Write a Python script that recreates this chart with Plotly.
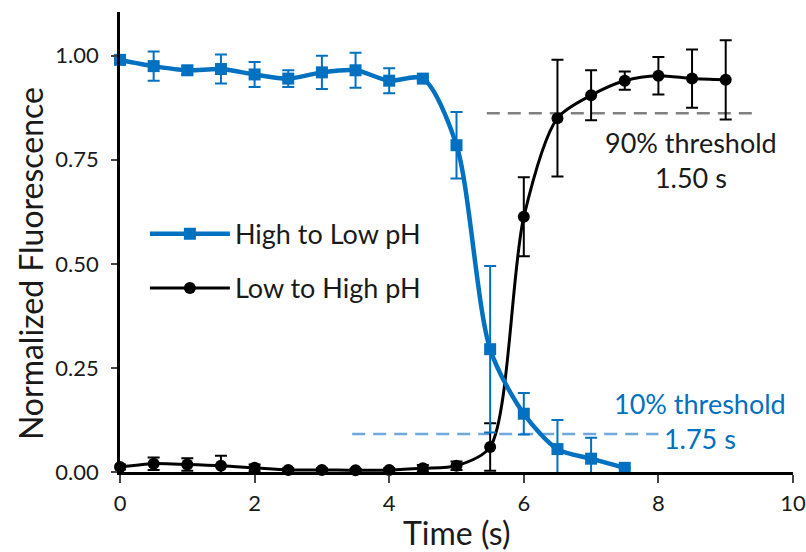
import plotly.graph_objects as go

# ---- data ----
t_high_low = [0, 0.5, 1, 1.5, 2, 2.5, 3, 3.5, 4, 4.5, 5, 5.5, 6, 6.5, 7, 7.5]
f_high_low = [0.99, 0.975, 0.965, 0.968, 0.955, 0.945, 0.96, 0.965, 0.94, 0.945, 0.785, 0.295, 0.14, 0.055, 0.032, 0.01]
e_high_low = [0.0, 0.035, 0.01, 0.035, 0.03, 0.02, 0.04, 0.042, 0.03, 0.005, 0.08, 0.2, 0.05, 0.07, 0.05, 0.0]

t_low_high = [0, 0.5, 1, 1.5, 2, 2.5, 3, 3.5, 4, 4.5, 5, 5.5, 6, 6.5, 7, 7.5, 8, 8.5, 9]
f_low_high = [0.012, 0.02, 0.018, 0.015, 0.01, 0.005, 0.005, 0.004, 0.005, 0.009, 0.015, 0.06, 0.613, 0.85, 0.905, 0.94, 0.952, 0.945, 0.942]
e_low_high = [0.006, 0.015, 0.015, 0.024, 0.008, 0.004, 0.004, 0.004, 0.004, 0.008, 0.01, 0.057, 0.095, 0.14, 0.06, 0.022, 0.045, 0.07, 0.095]

thr90_x = [5.45, 9.5]
thr90_y = 0.862
thr10_x = [3.45, 8.0]
thr10_y = 0.091

x_ticks = [0, 2, 4, 6, 8, 10]
y_ticks = [0.0, 0.25, 0.5, 0.75, 1.0]

BLUE = "#0070c0"
LIGHTBLUE = "#6fa8dc"
GREY = "#808080"
FONT = "Lato"

fig = go.Figure()

fig.add_trace(go.Scatter(
    x=thr90_x, y=[thr90_y] * 2, mode="lines", showlegend=False,
    line=dict(color=GREY, width=2.5, dash="13px,8px"), hoverinfo="skip"))
fig.add_trace(go.Scatter(
    x=thr10_x, y=[thr10_y] * 2, mode="lines", showlegend=False,
    line=dict(color=LIGHTBLUE, width=2.5, dash="13px,8px"), hoverinfo="skip"))

fig.add_trace(go.Scatter(
    x=t_low_high, y=f_low_high, name="Low to High pH", mode="lines+markers",
    legendgroup="b", legendrank=2,
    line=dict(color="black", width=3, shape="spline", smoothing=0.8),
    marker=dict(symbol="circle", size=12, color="black"),
    error_y=dict(type="data", array=e_low_high, color="black", thickness=2, width=6),
    cliponaxis=False))

fig.add_trace(go.Scatter(
    x=t_high_low, y=f_high_low, name="High to Low pH", mode="lines+markers",
    legendgroup="a", legendrank=1,
    line=dict(color=BLUE, width=4.5, shape="spline", smoothing=0.8),
    marker=dict(symbol="square", size=12, color=BLUE),
    error_y=dict(type="data", array=e_high_low, color=BLUE, thickness=2, width=6),
    cliponaxis=False))

fig.add_annotation(x=8.48, y=0.75, text="90% threshold<br>1.50 s", showarrow=False,
                   yanchor="middle", font=dict(family=FONT, size=27, color="#1a1a1a"),
                   align="center")
fig.add_annotation(x=8.62, y=0.123, text="10% threshold<br>1.75 s", showarrow=False,
                   yanchor="middle", font=dict(family=FONT, size=27, color=BLUE),
                   align="center")

# axis titles
fig.add_annotation(xref="paper", yref="paper", x=-0.1337, y=0.452, text="Normalized Fluorescence",
                   textangle=-90, showarrow=False, xanchor="center", yanchor="middle",
                   font=dict(family=FONT, size=32, color="#1a1a1a"))
fig.add_annotation(xref="paper", yref="paper", x=0.5, y=-0.132, text="Time (s)",
                   showarrow=False, xanchor="center", yanchor="middle",
                   font=dict(family=FONT, size=32, color="#1a1a1a"))

fig.update_layout(
    width=806, height=552,
    margin=dict(l=120, r=13, t=12, b=80, autoexpand=False),
    paper_bgcolor="white", plot_bgcolor="white",
    font=dict(family=FONT, size=22, color="#1a1a1a"),
    legend=dict(x=0.037, y=0.57, xanchor="left", yanchor="top",
                font=dict(size=27), itemwidth=80,
                bgcolor="rgba(0,0,0,0)", tracegroupgap=16),
    xaxis=dict(range=[0, 10], tickvals=x_ticks, ticks="outside", ticklen=8, tickwidth=2,
               ticklabelstandoff=2, automargin=False,
               showline=True, linecolor="black", linewidth=2.5, showgrid=False, zeroline=False),
    yaxis=dict(range=[0, 1.105], tickvals=y_ticks, tickformat=".2f", ticks="outside", ticklen=6,
               tickwidth=2, ticklabelstandoff=8, automargin=False,
               showline=True, linecolor="black", linewidth=2.5, showgrid=False,
               zeroline=False),
)

fig.write_html("out.html", config={"displayModeBar": False},
               post_script="document.body.style.margin='0px';document.body.style.overflow='hidden';")
